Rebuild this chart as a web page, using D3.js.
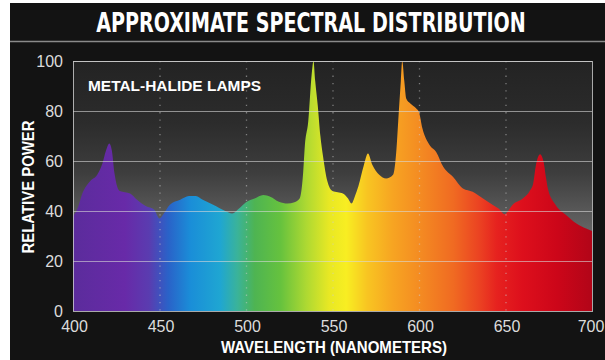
<!DOCTYPE html>
<html>
<head>
<meta charset="utf-8">
<script src="https://cdn.jsdelivr.net/npm/d3@7"></script>
<style>
  html, body { margin: 0; padding: 0; background: #ffffff; }
  svg { display: block; }
</style>
</head>
<body>
<svg id="chart" width="605" height="360"></svg>
<script>
// Relative spectral power of a metal-halide lamp, 400–700 nm
const wavelengths = [400, 402, 406, 410, 414, 417, 419, 421, 422.5, 424, 427, 433, 437, 442, 447, 450, 452, 456, 462, 467, 471, 475, 481, 488, 492, 496, 500, 505, 510, 514, 519, 524, 528, 531, 533, 534, 536, 538, 539, 540, 541.5, 543, 544.5, 547, 550, 553, 556, 559, 561, 563, 565, 568, 570.5, 573, 577, 581, 585, 587, 588, 589.5, 590.3, 591.5, 592.6, 595, 598.4, 600, 602, 606, 610, 614, 619.6, 625.4, 631, 637, 642.7, 646, 649.5, 652, 654, 660, 664, 666, 667.5, 670, 672, 673.5, 674.5, 679, 685, 691, 696.6, 700];
const power = [38, 40, 48, 52, 54.5, 59, 64, 67, 64, 55, 48, 47, 44.5, 42, 40.5, 37, 38.5, 42.5, 44.5, 46, 46, 44.5, 42.5, 40, 39, 41, 43.5, 45, 46.4, 45.7, 43.7, 43, 43.5, 45, 55, 66, 76, 95, 100, 92, 82, 70, 62, 52, 48, 47.5, 47, 45, 43, 46, 50, 58, 63, 58.5, 54.5, 53, 54.5, 65, 76, 92, 100, 92, 85, 83, 81, 79.5, 73, 66.5, 63.5, 57.7, 53.7, 49, 47.7, 45, 42.4, 41, 38.7, 40.5, 42.4, 45, 48, 51, 58, 62.7, 59.7, 53, 49, 42.4, 38.4, 35, 33, 32];

// Axis ticks
const xTicks = [400, 450, 500, 550, 600, 650, 700];
const yTicks = [0, 20, 40, 60, 80, 100];

// Visible-light colour ramp used to paint the area under the curve
const rampNm = [400, 430, 444, 455, 468, 485, 495, 505, 520, 535, 548, 558, 570, 585, 600, 620, 635, 645, 660, 680, 700];
const rampColor = ["#5b2c9c", "#682aa8", "#5a3cb0", "#2a62c8", "#1a8ed8", "#1fa6d2", "#3ab39a", "#4eb452", "#66c23e", "#aed932", "#e8e824", "#f8ee22", "#f8c522", "#f7a422", "#f48c22", "#f06a22", "#eb4222", "#e6221f", "#dd0f1c", "#cc0619", "#b20518"];

const svg = d3.select("#chart");
const W = 605, H = 360;
const margin = { left: 73, right: 13, top: 61, bottom: 49 };

const x = d3.scaleLinear().domain([400, 700]).range([margin.left, W - margin.right]);
const y = d3.scaleLinear().domain([0, 100]).range([H - margin.bottom, margin.top]);

const defs = svg.append("defs");

// Panel background: dark at the top, hazy grey lower down
const bg = defs.append("linearGradient").attr("id", "panelBg")
  .attr("x1", 0).attr("y1", 0).attr("x2", 0).attr("y2", 1);
[[0, "#232323"], [0.25, "#2c2c2c"], [0.45, "#3e3e3e"], [0.6, "#585858"], [0.72, "#6a6a6a"], [1, "#747474"]]
  .forEach(([o, c]) => bg.append("stop").attr("offset", o).attr("stop-color", c));

// Spectrum ramp in user space, tied to the x scale
const spec = defs.append("linearGradient").attr("id", "spectrum")
  .attr("gradientUnits", "userSpaceOnUse")
  .attr("x1", x(400)).attr("y1", 0).attr("x2", x(700)).attr("y2", 0);
rampNm.forEach((nm, i) => spec.append("stop")
  .attr("offset", (nm - 400) / 300).attr("stop-color", rampColor[i]));

// Outer frame
svg.append("rect").attr("width", W).attr("height", H).attr("fill", "#ffffff");
svg.append("rect").attr("x", 10).attr("y", 3).attr("width", W - 10).attr("height", H - 3).attr("fill", "#131313");

// Title band: condensed bold heading, squeezed horizontally to its column width
const titleG = svg.append("g");
const title = titleG.append("text")
  .attr("x", 0).attr("y", 0)
  .attr("text-anchor", "middle")
  .attr("fill", "#ffffff")
  .attr("font-family", "'Liberation Sans Narrow', 'DejaVu Sans Condensed', 'Roboto Condensed', sans-serif")
  .attr("font-weight", "bold")
  .attr("font-size", 26)
  .text("APPROXIMATE SPECTRAL DISTRIBUTION");
const natural = title.node().getComputedTextLength() || 430;
titleG.attr("transform", `translate(311,32) scale(${Math.min(1, 430 / natural)},1)`);
svg.append("line").attr("x1", 10).attr("x2", W).attr("y1", 41.5).attr("y2", 41.5)
  .attr("stroke", "#8a8a8a").attr("stroke-width", 1.5);

// Plot panel
svg.append("rect")
  .attr("x", x(400)).attr("y", y(100))
  .attr("width", x(700) - x(400)).attr("height", y(0) - y(100))
  .attr("fill", "url(#panelBg)");

// Spectral power area
const area = d3.area()
  .x((d, i) => x(wavelengths[i]))
  .y0(y(0))
  .y1((d, i) => y(power[i]))
  .curve(d3.curveMonotoneX);
svg.append("path")
  .datum(power)
  .attr("d", area)
  .attr("fill", "url(#spectrum)");

// Horizontal grid lines
svg.append("g").selectAll("line")
  .data(yTicks.filter(t => t > 0))
  .join("line")
  .attr("x1", x(400)).attr("x2", x(700))
  .attr("y1", d => y(d) + 0.5).attr("y2", d => y(d) + 0.5)
  .attr("stroke", "#d8d8d8").attr("stroke-opacity", 0.6).attr("stroke-width", 1);

// Vertical dotted grid lines
svg.append("g").selectAll("line")
  .data(xTicks.filter(t => t > 400 && t < 700))
  .join("line")
  .attr("x1", d => x(d) + 0.5).attr("x2", d => x(d) + 0.5)
  .attr("y1", y(100)).attr("y2", y(0))
  .attr("stroke", "#cfcfcf").attr("stroke-opacity", 0.5)
  .attr("stroke-width", 1.3).attr("stroke-dasharray", "1.3,6");

// Panel border
svg.append("rect")
  .attr("x", x(400) + 0.5).attr("y", y(100) + 0.5)
  .attr("width", x(700) - x(400)).attr("height", y(0) - y(100))
  .attr("fill", "none").attr("stroke", "#d0d0d0").attr("stroke-opacity", 0.8).attr("stroke-width", 1);

// Axes (labels only)
const tickFont = "'Liberation Sans', Arial, sans-serif";
const xAxis = svg.append("g")
  .attr("transform", `translate(1,${y(0)})`)
  .call(d3.axisBottom(x).tickValues(xTicks).tickSize(0).tickPadding(10));
const yAxis = svg.append("g")
  .attr("transform", `translate(${x(400) - 10},0)`)
  .call(d3.axisLeft(y).tickValues(yTicks).tickSize(0).tickPadding(0));
[xAxis, yAxis].forEach(g => {
  g.select(".domain").remove();
  g.selectAll("text")
    .attr("fill", "#dcdcdc")
    .attr("font-family", tickFont)
    .attr("font-size", 16);
});
// keep the last wavelength label inside the frame
xAxis.selectAll(".tick text").filter(d => d === 700).attr("dx", -2.5);

// Axis titles
svg.append("text")
  .attr("x", 334).attr("y", 353)
  .attr("text-anchor", "middle")
  .attr("fill", "#ffffff")
  .attr("font-family", "'Liberation Sans', Arial, sans-serif")
  .attr("font-weight", "bold")
  .attr("font-size", 17)
  .attr("textLength", 226)
  .attr("lengthAdjust", "spacingAndGlyphs")
  .text("WAVELENGTH (NANOMETERS)");
svg.append("text")
  .attr("transform", "translate(33.5,187) rotate(-90)")
  .attr("text-anchor", "middle")
  .attr("fill", "#ffffff")
  .attr("font-family", "'Liberation Sans', Arial, sans-serif")
  .attr("font-weight", "bold")
  .attr("font-size", 16)
  .attr("textLength", 133)
  .attr("lengthAdjust", "spacingAndGlyphs")
  .text("RELATIVE POWER");

// Lamp label
svg.append("text")
  .attr("x", 88).attr("y", 90.5)
  .attr("fill", "#ffffff")
  .attr("font-family", "'Liberation Sans', Arial, sans-serif")
  .attr("font-weight", "bold")
  .attr("font-size", 14)
  .attr("textLength", 173)
  .attr("lengthAdjust", "spacingAndGlyphs")
  .text("METAL-HALIDE LAMPS");
</script>
</body>
</html>
